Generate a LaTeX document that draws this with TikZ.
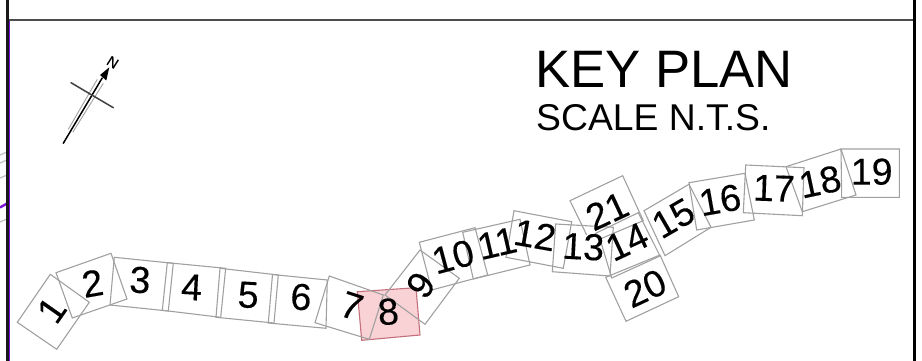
\documentclass[tikz,border=0pt]{standalone}
\usepackage{fontspec}
\setmainfont{Liberation Sans}
\newfontfamily\numfont[FakeBold=0.25]{Liberation Sans}
\definecolor{sheetgray}{HTML}{A0A0A0}
\definecolor{pinkfill}{HTML}{F9D2D5}
\definecolor{pinkedge}{HTML}{C4707C}
\definecolor{framepurple}{HTML}{7A10D8}
\tikzset{
  sheet/.style={draw=sheetgray,line width=1.1pt,line join=miter},
  sheetcur/.style={draw=pinkedge,fill=pinkfill,line width=1.1pt},
  num/.style={inner sep=0pt,text=black,font=\numfont\fontsize{37.5}{38}\selectfont},
  stray/.style={draw=sheetgray!70,line width=1.2pt}
}
\begin{document}
\begin{tikzpicture}[x=1pt,y=-1pt]
\useasboundingbox (0,0) rectangle (922,361);
% frame
\draw[stray] (0,155)--(7,152);
\draw[stray] (0,163)--(7,160);
\draw[stray] (0,178)--(7,175);
\draw[stray] (0,222)--(7,219);
\draw[framepurple,line width=2.4pt] (0,207.5)--(7,203.5);
\draw[framepurple,line width=1.2pt] (9.2,20)--(9.2,361);
\draw[draw=black!70,line width=2.4pt] (8,20)--(914,20);
\draw[draw=black!90,line width=2.2pt] (7.5,0)--(7.5,361);
\draw[draw=black,line width=3.8pt] (914.5,0)--(914.5,361);
% north arrow
\coordinate (ntail) at (63.3,143.3);
\coordinate (nbase) at (102.2,78);
\coordinate (ntip) at (109.3,67.3);
\coordinate (crossa) at (71,82.7);
\coordinate (crossb) at (113.3,107.7);
\draw[sheetgray,line width=0.9pt] (68.3,129.3)--(97.3,79.3);
\draw[sheetgray,line width=0.9pt] (72.7,132.3)--(103.3,83.3);
\draw[black,line width=1.5pt,line cap=round] (ntail)--(nbase);
\draw[black!75,line width=1.5pt,line cap=round] (crossa)--(crossb);
\fill[black] (ntip)--(106.3,80.5)--(100,75)--cycle;
\node[inner sep=0pt,rotate=-32,font=\numfont\fontsize{14.5}{15}\selectfont] (nlabel) at (112.7,62.3) {N};
% title
\node[inner sep=0pt,anchor=base west,font=\fontsize{52.7}{53}\selectfont] (title) at (535,87.3) {KEY PLAN};
\node[inner sep=0pt,anchor=base west,font=\fontsize{37.3}{38}\selectfont] (scale) at (536,130) {SCALE N.T.S.};
% sheets
\draw[sheetcur] (357.3,291.7)--(416,287.7)--(420,335)--(361.7,340.3)--cycle;
\draw[sheet] (50.3,274.3)--(89.3,302.3)--(56.7,349.3)--(17.3,322.3)--cycle;
\draw[sheet] (56,272.7)--(111,253.3)--(127,299)--(72.3,318)--cycle;
\draw[sheet] (114.3,257.3)--(173.3,263.3)--(168.3,311)--(110,305)--cycle;
\draw[sheet] (167.3,262.7)--(225.7,268.3)--(220.7,317.3)--(162.3,310.3)--cycle;
\draw[sheet] (220,268.3)--(278.3,275)--(274,323)--(216,317.3)--cycle;
\draw[sheet] (272.5,274.5)--(327.3,280)--(326,328.3)--(268.3,323)--cycle;
\draw[sheet] (329.3,276)--(383.3,295)--(369.3,339.3)--(315,322.7)--cycle;
\draw[sheet] (420,250)--(459.3,278.3)--(425,324.3)--(385,295)--cycle;
\draw[sheet] (419.3,242.3)--(475,227.7)--(487.7,275)--(431.7,290)--cycle;
\draw[sheet] (462.7,232.3)--(520,219.3)--(530,265)--(473.3,279)--cycle;
\draw[sheet] (514,210.7)--(571.7,221.7)--(563.3,268.3)--(506,257.3)--cycle;
\draw[sheet] (555.7,224)--(613.3,227.3)--(610,276)--(552.3,271.7)--cycle;
\draw[sheet] (586.7,235)--(570,200.7)--(622.7,175.7)--(643.3,220.7)--(600,239);
\draw[sheet] (595.7,233.3)--(638.3,212.7)--(660,256)--(611.7,278)--(600,239)--cycle;
\draw[sheet] (644,210.7)--(689,184.3)--(711,227.3)--(665,255.7)--cycle;
\draw[sheet] (689,182.7)--(745,173.3)--(754.3,220)--(696.7,230)--cycle;
\draw[sheet] (745.7,165)--(804,167.7)--(802.3,215.7)--(743.3,212.7)--cycle;
\draw[sheet] (786,166.7)--(841,149)--(856,195)--(802.3,211.7)--cycle;
\draw[sheet] (841,149)--(899.3,149)--(899.3,197.3)--(841.7,197.3)--cycle;
\draw[sheet] (605.7,277.3)--(660,255)--(678.7,296.7)--(626,321.3)--cycle;
% labels
\node[num,rotate=55] (n1) at (51.7,310) {1};
\node[num,rotate=10] (n2) at (92.5,283.3) {2};
\node[num,rotate=-3] (n3) at (140,280) {3};
\node[num,rotate=-3] (n4) at (191.7,287.3) {4};
\node[num,rotate=-3] (n5) at (248.3,295) {5};
\node[num,rotate=-3] (n6) at (301,297) {6};
\node[num,rotate=-18] (n7) at (351.7,306) {7};
\node[num,rotate=4] (n8) at (388.3,311.7) {8};
\node[num,rotate=54] (n9) at (420.7,285) {9};
\node[num,rotate=15] (n10) at (453,256.7) {10};
\node[num,rotate=13] (n11) at (497,243.3) {11};
\node[num,rotate=-10] (n12) at (535,235) {12};
\node[num,rotate=-3] (n13) at (583.3,246.7) {13};
\node[num,rotate=25] (n14) at (627,241.7) {14};
\node[num,rotate=30] (n15) at (673.3,218.3) {15};
\node[num,rotate=10] (n16) at (720,200) {16};
\node[num,rotate=-2] (n17) at (774,188.3) {17};
\node[num,rotate=12] (n18) at (820,181.7) {18};
\node[num] (n19) at (871.7,171.7) {19};
\node[num,rotate=25] (n20) at (645,288.3) {20};
\node[num,rotate=25] (n21) at (607,211) {21};
\end{tikzpicture}
\end{document}
